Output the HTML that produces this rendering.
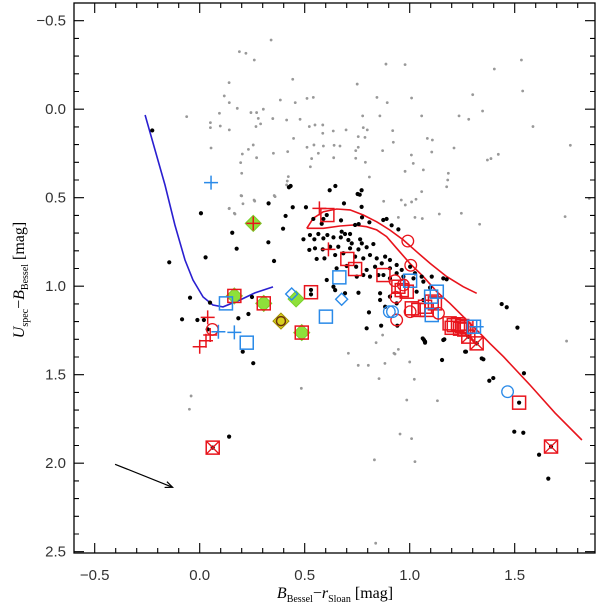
<!DOCTYPE html>
<html><head><meta charset="utf-8"><style>
html,body{margin:0;padding:0;background:#fff;}
svg{display:block;}
.tl{font-family:"Liberation Sans",sans-serif;}
.ti{font-family:"Liberation Serif",serif;}
</style></head><body>
<svg id="chart" width="600" height="603" viewBox="0 0 600 603" xmlns="http://www.w3.org/2000/svg">
<g id="grey"></g>
<g id="lines"></g>
<g id="black"></g>
<g id="marks"></g>
<g id="axes"></g>
<text class="ti" x="335" y="598" text-anchor="middle" style="font-family:'Liberation Serif',serif;font-size:16px"><tspan font-style="italic">B</tspan><tspan style="font-size:10px" dy="4">Bessel</tspan><tspan dy="-4">−</tspan><tspan font-style="italic">r</tspan><tspan style="font-size:10px" dy="4">Sloan</tspan><tspan dy="-4"> [mag]</tspan></text>
<text class="ti" transform="translate(24,280) rotate(-90)" text-anchor="middle" style="font-family:'Liberation Serif',serif;font-size:16px"><tspan font-style="italic">U</tspan><tspan style="font-size:10px" dy="4">spec</tspan><tspan dy="-4">−</tspan><tspan font-style="italic">B</tspan><tspan style="font-size:10px" dy="4">Bessel</tspan><tspan dy="-4"> [mag]</tspan></text>
</svg>
<script>
const xTicks=[-0.5,0.0,0.5,1.0,1.5];
const yTicks=[-0.5,0.0,0.5,1.0,1.5,2.0,2.5];
const xTickLabels=["\u22120.5","0.0","0.5","1.0","1.5"];
const yTickLabels=["\u22120.5","0.0","0.5","1.0","1.5","2.0","2.5"];
const blueLineX=[-0.26,-0.213,-0.165,-0.118,-0.07,-0.032,0.016,0.063,0.111,0.192,0.263,0.349];
const blueLineY=[0.033,0.23,0.428,0.654,0.852,0.965,1.061,1.106,1.117,1.078,1.038,1.004];
const redUpperX=[0.51,0.541,0.589,0.652,0.716,0.779,0.843,0.906,0.97,1.033,1.097,1.176,1.255,1.319];
const redUpperY=[0.673,0.616,0.579,0.564,0.569,0.598,0.636,0.683,0.739,0.805,0.871,0.946,1.003,1.04];
const redLowerX=[0.51,0.589,0.668,0.731,0.795,0.843,0.89,0.938,1.001,1.065,1.129,1.192,1.255,1.319,1.382,1.446,1.573,1.692,1.82];
const redLowerY=[0.673,0.673,0.66,0.654,0.664,0.682,0.72,0.786,0.871,0.946,1.031,1.097,1.172,1.247,1.323,1.398,1.558,1.716,1.869];
const arrowX=[-0.403,-0.129];
const arrowY=[2.006,2.136];
const greyX=[0.34,0.189,0.22,0.26,0.887,0.978,1.532,1.403,0.443,0.14,0.75,1.538,0.117,0.141,0.179,0.384,0.455,0.511,0.541,0.844,0.893,1.009,1.3,1.347,-0.062,0.094,0.244,0.271,0.303,0.279,0.348,0.414,0.478,0.776,0.858,1.057,1.235,1.281,0.051,0.051,0.098,0.141,0.268,0.29,0.522,0.549,0.586,0.586,0.636,0.697,0.779,0.798,0.919,1.587,0.447,0.755,0.787,0.922,1.084,1.108,1.765,0.054,0.255,0.232,0.203,0.271,0.351,0.419,0.511,0.544,0.589,0.64,0.668,0.743,0.755,0.871,1.105,1.211,1.008,1.422,1.37,1.387,0.195,0.533,0.565,0.638,0.743,0.789,0.527,1.017,1.065,0.978,0.2,0.422,0.417,0.414,0.808,1.184,1.181,1.176,0.197,0.206,0.262,0.355,0.14,0.165,0.876,0.96,0.979,1.009,1.03,1.057,0.946,1.025,1.06,1.141,1.246,1.333,1.74,1.855,0.2,0.259,0.141,0.168,0.359,0.871,0.946,0.93,0.882,1.0,1.022,0.986,1.132,0.954,1.009,1.025,1.747,0.354,0.708,0.84,0.795,0.925,-0.041,-0.049,0.484,0.755,0.803,0.854,0.832,0.838];
const greyY=[-0.391,-0.325,-0.316,-0.278,-0.255,-0.252,-0.278,-0.227,-0.169,-0.15,-0.142,-0.103,-0.075,-0.037,-0.005,-0.052,-0.037,-0.061,-0.067,-0.067,-0.037,-0.063,-0.082,0.01,0.042,0.023,0.019,0.019,0.0,0.052,0.053,0.061,0.057,0.038,0.038,0.038,0.038,0.057,0.076,0.104,0.095,0.117,0.098,0.083,0.098,0.089,0.089,0.136,0.123,0.117,0.104,0.117,0.121,0.098,0.165,0.155,0.159,0.187,0.165,0.174,0.204,0.219,0.202,0.227,0.253,0.274,0.249,0.24,0.215,0.202,0.208,0.204,0.208,0.234,0.215,0.234,0.242,0.219,0.259,0.255,0.287,0.279,0.302,0.279,0.249,0.274,0.277,0.3,0.325,0.306,0.343,0.351,0.362,0.381,0.406,0.428,0.383,0.362,0.4,0.438,0.488,0.534,0.519,0.488,0.562,0.588,0.52,0.513,0.541,0.524,0.509,0.466,0.611,0.611,0.618,0.592,0.588,0.65,0.607,0.504,0.49,0.513,0.56,0.592,0.494,1.276,1.357,1.383,1.436,1.428,1.526,1.643,1.647,1.835,1.861,1.991,1.31,0.852,1.379,1.319,1.238,1.379,1.62,1.695,1.577,1.447,1.447,1.522,1.981,2.452];
const blackX=[-0.226,0.006,-0.145,0.028,0.155,0.176,0.328,0.327,0.354,0.397,0.409,0.443,0.506,0.425,0.433,0.605,-0.046,0.049,0.249,-0.084,-0.011,0.02,0.184,0.232,0.038,0.205,0.255,0.14,0.53,0.53,0.619,0.646,0.687,0.752,0.762,0.771,0.771,0.541,0.581,0.605,0.589,0.673,0.773,0.757,0.808,0.74,0.874,0.89,0.914,0.946,0.494,0.546,0.589,0.525,0.565,0.608,0.637,0.676,0.692,0.716,0.708,0.672,0.724,0.764,0.772,0.522,0.549,0.586,0.621,0.66,0.716,0.756,0.795,0.827,0.557,0.594,0.645,0.684,0.74,0.779,0.811,0.843,0.883,0.906,0.652,0.7,0.745,0.795,0.835,0.867,0.906,0.938,0.962,1.002,1.025,1.057,0.748,0.779,0.811,0.851,0.906,0.938,0.97,1.018,1.065,1.105,1.16,1.176,0.637,0.645,0.692,0.756,0.859,0.859,0.883,0.906,0.938,1.033,1.065,1.097,0.806,0.864,0.941,0.795,1.068,1.073,1.16,1.264,1.351,1.438,1.462,1.513,1.062,1.073,1.165,1.268,1.343,1.154,1.379,1.398,1.544,1.521,1.498,1.541,1.616,1.66,1.673,0.165,0.305,0.486,0.459,0.387,1.279,1.319,0.875,0.062];
const blackY=[0.12,0.588,0.865,0.837,0.698,0.788,0.532,0.752,0.858,0.675,0.603,0.554,0.554,0.441,0.434,0.965,1.065,1.093,1.061,1.187,1.191,1.191,1.181,1.157,1.244,1.37,1.435,1.85,1.021,1.046,0.458,0.434,0.532,0.479,0.483,0.458,0.552,0.62,0.647,0.598,0.62,0.628,0.611,0.649,0.639,0.654,0.626,0.62,0.656,0.679,0.735,0.735,0.73,0.711,0.705,0.711,0.724,0.692,0.705,0.705,0.739,0.724,0.758,0.735,0.758,0.795,0.786,0.792,0.777,0.777,0.786,0.792,0.78,0.762,0.846,0.843,0.824,0.814,0.833,0.843,0.824,0.843,0.833,0.852,0.899,0.886,0.89,0.908,0.89,0.871,0.899,0.88,0.908,0.89,0.927,0.946,0.946,0.937,0.946,0.937,0.956,0.927,0.946,0.956,0.974,0.946,0.956,0.961,1.003,1.022,1.04,1.037,1.04,1.078,1.116,1.059,1.097,1.031,1.078,1.008,1.148,1.223,1.223,1.238,1.304,1.319,1.304,1.37,1.413,1.101,1.119,1.234,1.295,1.313,1.3,1.37,1.408,1.417,1.534,1.519,1.492,1.658,1.822,1.828,1.952,2.087,1.906,1.055,1.097,1.262,1.072,1.197,1.285,1.323,0.937,1.912];
const redSqX=[0.165,0.305,0.486,0.53,0.608,0.703,0.74,0.875,0.946,0.986,0.962,1.01,1.041,1.073,1.105,1.12,1.081,1.19,1.21,1.23,1.25,1.27,1.2,1.24,1.26,1.521];
const redSqY=[1.055,1.097,1.262,1.034,0.598,0.846,0.903,0.937,1.003,1.031,1.022,1.125,1.134,1.116,1.087,1.097,1.134,1.21,1.22,1.215,1.225,1.23,1.235,1.24,1.245,1.658];
const redXSqX=[1.279,1.319,1.673,0.062];
const redXSqY=[1.285,1.323,1.906,1.912];
const redCircX=[0.06,0.991,1.005,0.93,0.935,0.938,1.002,1.137,0.97];
const redCircY=[1.244,0.745,0.882,0.969,1.063,1.191,1.144,1.153,0.993];
const redPlusX=[0.038,0.0,0.03,0.05,0.57,0.613,0.255];
const redPlusY=[1.176,1.342,1.308,1.276,0.56,0.792,0.645];
const blueSqX=[0.125,0.224,0.601,0.665,1.002,1.129,1.102,1.105,1.306];
const blueSqY=[1.097,1.319,1.172,0.95,0.969,1.031,1.059,1.163,1.229];
const blueCircX=[0.903,0.918,1.466];
const blueCircY=[1.144,1.144,1.596];
const bluePlusX=[0.054,0.089,0.165,1.319];
const bluePlusY=[0.415,1.257,1.261,1.229];
const blueDiaX=[0.438,0.676];
const blueDiaY=[1.044,1.074];
const greenDiaX=[0.165,0.305,0.486,0.459,0.255];
const greenDiaY=[1.055,1.097,1.262,1.072,0.645];
const yellowDiaX=[0.387];
const yellowDiaY=[1.197];

const L=74,R=595,T=3,B=553;
const X=v=>199.7+210*v;
const Y=v=>109.2+177*v;
const NS="http://www.w3.org/2000/svg";
function mk(tag,parent,attrs){const e=document.createElementNS(NS,tag);for(const k in attrs)e.setAttribute(k,attrs[k]);parent.appendChild(e);return e;}
const gG=document.getElementById('grey'),gL=document.getElementById('lines'),gB=document.getElementById('black'),gM=document.getElementById('marks'),gA=document.getElementById('axes');

for(let i=0;i<greyX.length;i++){const c=mk('circle',gG,{cx:X(greyX[i]),cy:Y(greyY[i]),r:1.4,fill:'#999'});

}

function poly(xs,ys,color,name){const p=xs.map((x,i)=>X(x).toFixed(1)+','+Y(ys[i]).toFixed(1)).join(' ');const e=mk('polyline',gL,{points:p,fill:'none',stroke:color,'stroke-width':1.6});

}
poly(blueLineX,blueLineY,'#2a1fd0','blue-model-line');
poly(redUpperX,redUpperY,'#e8141c','red-upper-line');
poly(redLowerX,redLowerY,'#e8141c','red-lower-line');

const ax1=X(arrowX[0]),ay1=Y(arrowY[0]),ax2=X(arrowX[1]),ay2=Y(arrowY[1]);
const arr=mk('line',gL,{x1:ax1,y1:ay1,x2:ax2,y2:ay2,stroke:'#000','stroke-width':1.2});


const ang=Math.atan2(ay2-ay1,ax2-ax1);
const ah=mk('polyline',gL,{points:`${ax2-8*Math.cos(ang-0.4)},${ay2-8*Math.sin(ang-0.4)} ${ax2},${ay2} ${ax2-8*Math.cos(ang+0.4)},${ay2-8*Math.sin(ang+0.4)}`,fill:'none',stroke:'#000','stroke-width':1.2});



for(let i=0;i<greenDiaX.length;i++){const x=X(greenDiaX[i]),y=Y(greenDiaY[i]);const e=mk('polygon',gM,{points:`${x},${y-8} ${x+8},${y} ${x},${y+8} ${x-8},${y}`,fill:'#8ee03a',stroke:'#7ad02a','stroke-width':1});

}
for(let i=0;i<yellowDiaX.length;i++){const x=X(yellowDiaX[i]),y=Y(yellowDiaY[i]);const e=mk('polygon',gM,{points:`${x},${y-8} ${x+8},${y} ${x},${y+8} ${x-8},${y}`,fill:'#d8d020',stroke:'#a09000','stroke-width':1});


const c=mk('circle',gM,{cx:x,cy:y,r:4.5,fill:'none',stroke:'#6a3010','stroke-width':1.5});

}

for(let i=0;i<blackX.length;i++){const c=mk('circle',gB,{cx:X(blackX[i]),cy:Y(blackY[i]),r:2.1,fill:'#000'});

}

function sq(x,y,color,name){const e=mk('rect',gM,{x:x-6.5,y:y-6.5,width:13,height:13,fill:'none',stroke:color,'stroke-width':1.5});

}
for(let i=0;i<redSqX.length;i++)sq(X(redSqX[i]),Y(redSqY[i]),'#e8141c','red-square');
for(let i=0;i<redXSqX.length;i++){const x=X(redXSqX[i]),y=Y(redXSqY[i]);sq(x,y,'#e8141c','red-x-square');
const e=mk('path',gM,{d:`M${x-6},${y-6}L${x+6},${y+6}M${x+6},${y-6}L${x-6},${y+6}`,stroke:'#e8141c','stroke-width':1.3,fill:'none'});

}
for(let i=0;i<blueSqX.length;i++)sq(X(blueSqX[i]),Y(blueSqY[i]),'#2a8ae8','blue-square');
function circ(x,y,color,name){const e=mk('circle',gM,{cx:x,cy:y,r:5.8,fill:'none',stroke:color,'stroke-width':1.3});

}
for(let i=0;i<redCircX.length;i++)circ(X(redCircX[i]),Y(redCircY[i]),'#e8141c','red-circle');
for(let i=0;i<blueCircX.length;i++)circ(X(blueCircX[i]),Y(blueCircY[i]),'#2a8ae8','blue-circle');
function plus(x,y,color,name){const e=mk('path',gM,{d:`M${x-7},${y}L${x+7},${y}M${x},${y-7}L${x},${y+7}`,stroke:color,'stroke-width':1.5,fill:'none'});

}
for(let i=0;i<redPlusX.length;i++)plus(X(redPlusX[i]),Y(redPlusY[i]),'#e8141c','red-plus');
for(let i=0;i<bluePlusX.length;i++)plus(X(bluePlusX[i]),Y(bluePlusY[i]),'#2a8ae8','blue-plus');
for(let i=0;i<blueDiaX.length;i++){const x=X(blueDiaX[i]),y=Y(blueDiaY[i]);const e=mk('polygon',gM,{points:`${x},${y-6} ${x+6},${y} ${x},${y+6} ${x-6},${y}`,fill:'none',stroke:'#2a8ae8','stroke-width':1.4});

}

const fr=mk('rect',gA,{x:L,y:T,width:R-L,height:B-T,fill:'none',stroke:'#000','stroke-width':1.3});


let d='';
for(let k=-6;k<=18;k++){const v=k/10;const x=X(v);if(x<L+1||x>R-1)continue;const len=(k%5===0)?10:5;d+=`M${x},${B}V${B-len}M${x},${T}V${T+len}`;}
for(let k=-6;k<=25;k++){const v=k/10;const y=Y(v);if(y<T+1||y>B-1)continue;const len=(k%5===0)?10:5;d+=`M${L},${y}H${L+len}M${R},${y}H${R-len}`;}
const tk=mk('path',gA,{d:d,stroke:'#000','stroke-width':1.1,fill:'none'});


for(let i=0;i<xTicks.length;i++){const t=mk('text',gA,{x:X(xTicks[i]),y:580,'text-anchor':'middle','font-size':15,fill:'#333',class:'tl'});t.textContent=xTickLabels[i];

}
for(let i=0;i<yTicks.length;i++){const t=mk('text',gA,{x:66,y:Y(yTicks[i])+5,'text-anchor':'end','font-size':15,fill:'#333',class:'tl'});t.textContent=yTickLabels[i];

}
</script>
</body></html>
